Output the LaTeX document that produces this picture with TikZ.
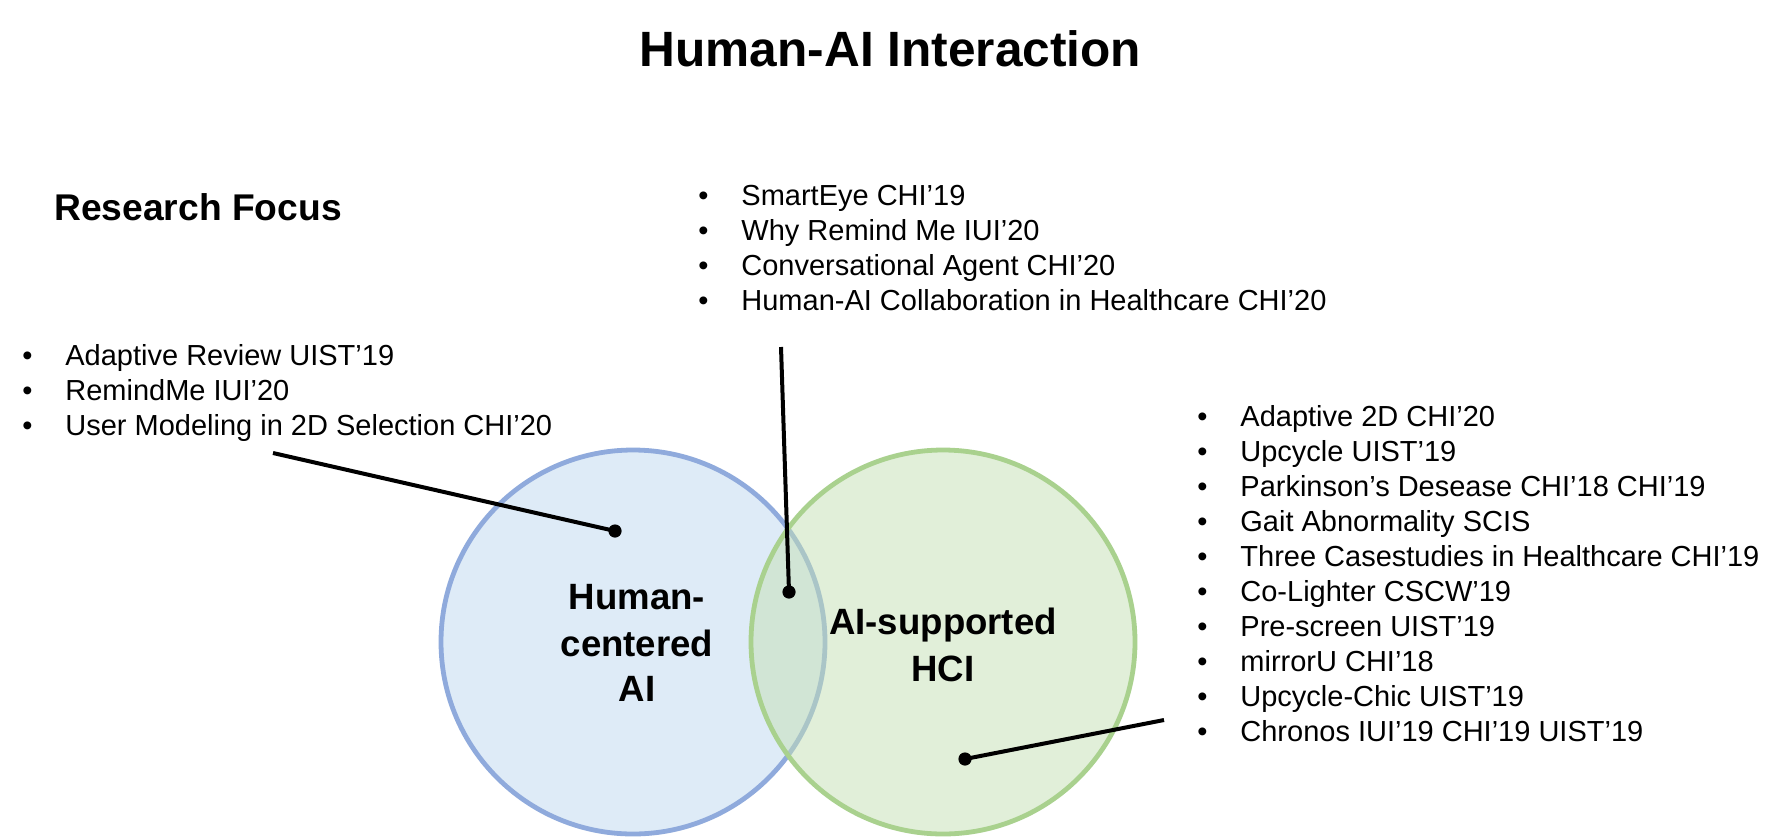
\documentclass[tikz,border=0pt]{standalone}
\usepackage{fontspec}
\setmainfont{Liberation Sans}
\definecolor{bluefill}{HTML}{DEEBF7}
\definecolor{bluestroke}{HTML}{8FAADC}
\definecolor{greenfill}{HTML}{C5E0B4}
\definecolor{greenstroke}{HTML}{A9D18E}
\begin{document}
\begin{tikzpicture}[x=0.5pt,y=-0.5pt,
  item/.style={anchor=base west, inner sep=0pt, font=\fontsize{14.5}{17}\selectfont},
  bul/.style={anchor=base west, inner sep=0pt, font=\fontsize{14.5}{17}\selectfont},
  circlabel/.style={anchor=base, inner sep=0pt, font=\fontsize{18.3}{22}\selectfont\bfseries},
  dot/.style={circle, fill=black, inner sep=0pt, minimum size=6.6pt},
  conn/.style={draw=black, line width=2pt},
  bluecirc/.style={fill=bluefill, draw=bluestroke, line width=2.4pt},
  greencirc/.style={fill=greenfill, fill opacity=0.5, draw=greenstroke, draw opacity=1, line width=2.4pt}]
\useasboundingbox (0,0) rectangle (1781,836);
\fill[white] (0,0) rectangle (1781,836);

% title
\node[inner sep=0pt, font=\fontsize{24.8}{30}\selectfont\bfseries] (title) at (890.5,49) {Human-AI Interaction};
\node[anchor=base west, inner sep=0pt, font=\fontsize{18.6}{22}\selectfont\bfseries] (focus) at (54,220) {Research Focus};

% circles
\draw[bluecirc] (633,642) circle[radius=96pt];
\draw[greencirc] (943,642) circle[radius=96pt];

% circle labels
\node[circlabel] (hc1) at (637,609) {Human-};
\node[circlabel] (hc2) at (637,656) {centered};
\node[circlabel] (hc3) at (637,701) {AI};
\node[circlabel] (ah1) at (943,634) {AI-supported};
\node[circlabel] (ah2) at (943,681) {HCI};

% left list
\foreach \t [count=\i] in {Adaptive Review UIST’19, RemindMe IUI’20, User Modeling in 2D Selection CHI’20}{
  \node[bul] (lb\i) at (22,365+35*\i-35) {•};
  \node[item] (lt\i) at (65,365+35*\i-35) {\t};
}

% top list
\foreach \t [count=\i] in {SmartEye CHI’19, Why Remind Me IUI’20, Conversational Agent CHI’20, Human-AI Collaboration in Healthcare CHI’20}{
  \node[bul] (tb\i) at (698,205+35*\i-35) {•};
  \node[item] (tt\i) at (741,205+35*\i-35) {\t};
}

% right list
\foreach \t [count=\i] in {Adaptive 2D CHI’20, Upcycle UIST’19, Parkinson’s Desease CHI’18 CHI’19, Gait Abnormality SCIS, Three Casestudies in Healthcare CHI’19, Co-Lighter CSCW’19, Pre-screen UIST’19, mirrorU CHI’18, Upcycle-Chic UIST’19, Chronos IUI’19 CHI’19 UIST’19}{
  \node[bul] (rb\i) at (1197,426+35*\i-35) {•};
  \node[item] (rt\i) at (1240,426+35*\i-35) {\t};
}

% connectors
\coordinate (s1) at (273,453);
\coordinate (s2) at (781,347);
\coordinate (s3) at (1164,720);
\node[dot] (d1) at (615,531) {};
\node[dot] (d2) at (789,592) {};
\node[dot] (d3) at (965,759) {};
\draw[conn] (s1) -- (d1.center);
\draw[conn] (s2) -- (d2.center);
\draw[conn] (s3) -- (d3.center);
\end{tikzpicture}
\end{document}
